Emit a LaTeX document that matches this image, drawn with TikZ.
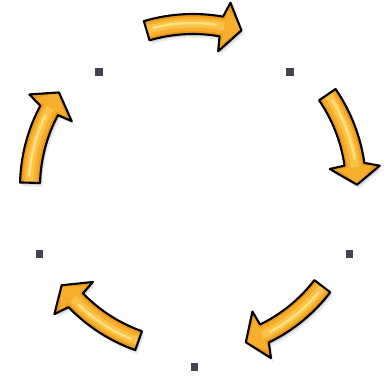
\documentclass[tikz,border=0pt]{standalone}
\definecolor{arrowedge}{HTML}{EE9A14}
\definecolor{arrowmid}{HTML}{F7AE2C}
\definecolor{arrowlight}{HTML}{FBC24A}
\definecolor{arrowhigh}{HTML}{FFE07E}
\definecolor{dotgray}{HTML}{41454F}
\tikzset{
  sqdot/.style={fill=dotgray,draw=none,minimum size=0.155cm,inner sep=0pt,outer sep=0pt},
  arrowoutline/.style={draw=black,line width=1.2pt,line join=round},
}
\def\arrowshapeB{(106.5:173) arc[start angle=106.5,end angle=80,radius=173] -- (78.5:188) -- (72.8:164) -- (79.5:138) -- (80:153) arc[start angle=80,end angle=106.5,radius=153] -- cycle}
\newcommand{\cyclearrow}[1]{%
  \begin{scope}[shift={(195.5,187)},rotate=#1]
    \fill[black,opacity=.07] \arrowshapeB;
  \end{scope}
  \begin{scope}[shift={(194.3,189)},rotate=#1]
    \fill[black,opacity=.12] \arrowshapeB;
  \end{scope}
  \begin{scope}[shift={(193,191)},rotate=#1]
    \fill[arrowedge] \arrowshapeB;
    \begin{scope}
      \clip \arrowshapeB;
      \fill[arrowmid] (79:181) -- (73:166) -- (79:145) -- cycle;
      \draw[arrowmid,line width=0.28cm] (107:163) arc[start angle=107,end angle=78,radius=163];
      \draw[arrowlight,line width=0.16cm] (107:163.5) arc[start angle=107,end angle=79,radius=163.5];
      \draw[arrowhigh,line width=0.05cm,line cap=round] (104:164) arc[start angle=104,end angle=82,radius=164];
    \end{scope}
    \draw[arrowoutline] \arrowshapeB;
  \end{scope}}
\begin{document}
\begin{tikzpicture}[x=0.02cm,y=0.02cm]
  \useasboundingbox (0,0) rectangle (389,378);
  \cyclearrow{0}
  \cyclearrow{-72}
  \cyclearrow{-144}
  \cyclearrow{-216}
  \cyclearrow{-288}
  \begin{scope}[shift={(194.5,174)}]
    \node[sqdot] (s1) at (126:163) {};
    \node[sqdot] (s2) at (54:163) {};
    \node[sqdot] (s3) at (-18:163) {};
    \node[sqdot] (s4) at (-90:163) {};
    \node[sqdot] (s5) at (198:163) {};
  \end{scope}
\end{tikzpicture}
\end{document}
